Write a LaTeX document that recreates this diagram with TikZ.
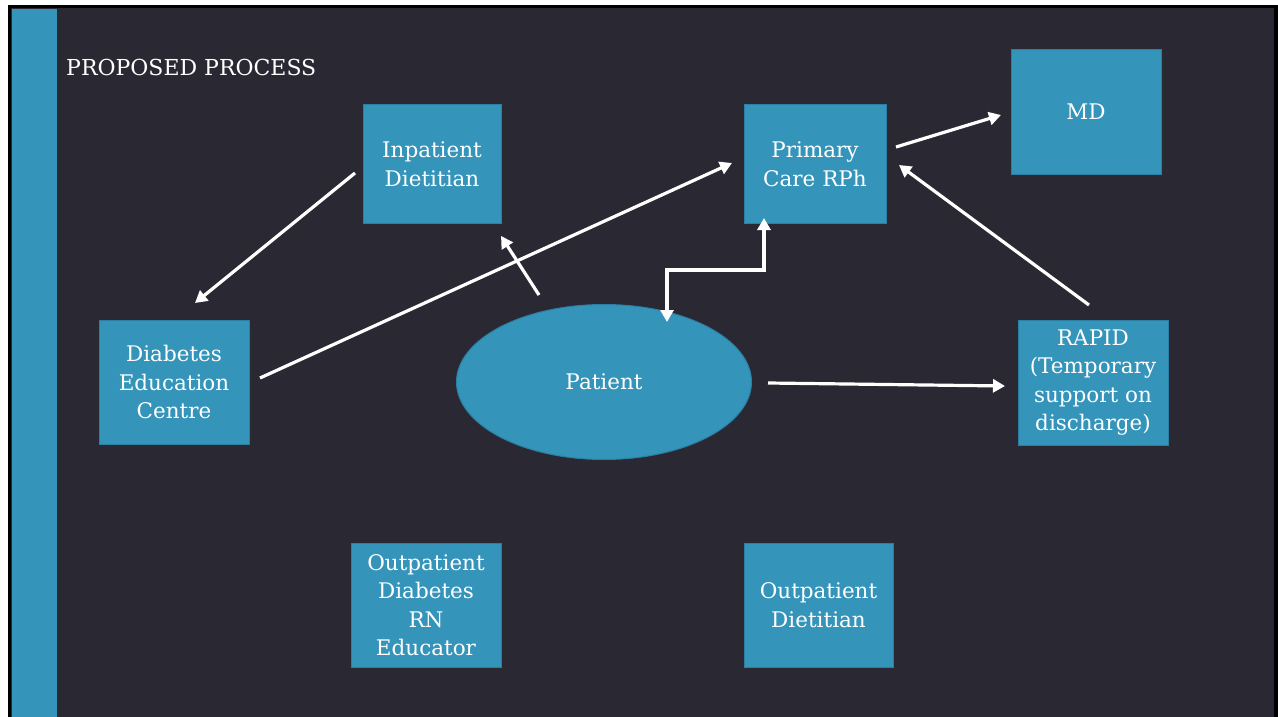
\documentclass[tikz,border=0pt]{standalone}
\usepackage{fontspec}
\setmainfont{DejaVu Serif}
\usetikzlibrary{arrows.meta,shapes.geometric}
\definecolor{bgdark}{HTML}{2A2833}
\definecolor{boxblue}{HTML}{3494BA}
\definecolor{boxedge}{HTML}{2A7FA3}
\tikzset{
  box/.style={draw=boxedge, line width=1pt, fill=boxblue, text=white, align=center, font=\fontsize{21.5}{28.5}\selectfont, inner sep=0pt},
  tip/.style={},
  conn/.style={draw=white, line width=3.2pt, -{Triangle[length=12pt,width=13pt]}},
}
\begin{document}
\begin{tikzpicture}[x=1pt,y=-1pt]
\useasboundingbox (0,0) rectangle (1278,717);
\fill[white] (0,0) rectangle (1278,717);
\fill[black] (8,5) rectangle (1278,717);
\fill[bgdark] (11,8) rectangle (1274,717);
\fill[boxblue] (12,9) rectangle (57,717);
\node[anchor=west, text=white, font=\fontsize{22}{25}\selectfont, inner sep=0pt] (title) at (66,67) {PROPOSED PROCESS};

\node[box, minimum width=138, minimum height=118] (inp) at (432,164) {Inpatient\\Dietitian};
\node[box, minimum width=142, minimum height=118] (rph) at (815,164) {Primary\\Care RPh};
\node[box, minimum width=150, minimum height=125] (md) at (1086,112) {MD};
\node[box, minimum width=150, minimum height=124] (dec) at (174,382) {Diabetes\\Education\\Centre};
\node[box, minimum width=150, minimum height=125] (rapid) at (1093,382.5) {RAPID\\(Temporary\\support on\\discharge)};
\node[box, minimum width=150, minimum height=124] (opn) at (426,605) {Outpatient\\Diabetes\\RN\\Educator};
\node[box, minimum width=149, minimum height=124] (opd) at (818.5,605) {Outpatient\\Dietitian};
\node[box, ellipse, minimum width=295, minimum height=155] (pat) at (604,382) {Patient};

\coordinate (a1s) at (355,173); \coordinate (a1e) at (195,303);
\draw[conn] (a1s) -- (a1e);
\coordinate (a2s) at (260,378); \coordinate (a2e) at (732,163);
\draw[conn] (a2s) -- (a2e);
\coordinate (a3s) at (539,295); \coordinate (a3e) at (501,236);
\draw[conn] (a3s) -- (a3e);
\coordinate (a4s) at (667,322); \coordinate (a4e) at (764,218);
\draw[conn, {Triangle[length=12pt,width=13pt]}-{Triangle[length=12pt,width=13pt]}] (a4s) -- (667,270) -- (764,270) -- (a4e);
\coordinate (a5s) at (768,383); \coordinate (a5e) at (1005,386);
\draw[conn] (a5s) -- (a5e);
\coordinate (a6s) at (1089,305); \coordinate (a6e) at (899,165);
\draw[conn] (a6s) -- (a6e);
\coordinate (a7s) at (896,147); \coordinate (a7e) at (1001,115);
\draw[conn] (a7s) -- (a7e);
\end{tikzpicture}
\end{document}
